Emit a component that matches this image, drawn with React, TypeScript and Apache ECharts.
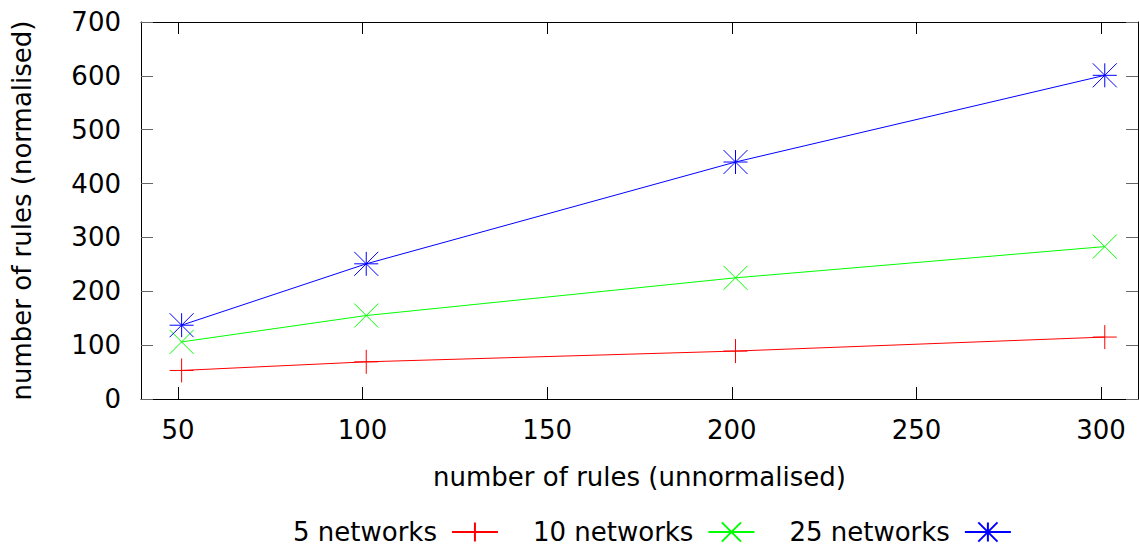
import React, { useEffect, useRef } from "react";
import * as echarts from "echarts";

const xValues = [51, 101, 201, 301];
const xTicks = [50, 100, 150, 200, 250, 300];
const net5 = [53, 69, 89, 115];
const net10 = [106, 155, 225, 283];
const net25 = [137, 251, 440, 601];
const seriesNames = ["5 networks", "10 networks", "25 networks"];

const PLUS = "path://M0,-1L0,1M-1,0L1,0";
const CROSS = "path://M-1,-1L1,1M-1,1L1,-1";
const STAR = "path://M0,-1L0,1M-1,0L1,0M-1,-1L1,1M-1,1L1,-1";

const FONT = "DejaVu Sans";
const FS = 26;

function pairs(ys: number[]) {
  return xValues.map((x, i) => [x, ys[i]]);
}

export default function App() {
  const ref = useRef<HTMLDivElement>(null);
  useEffect(() => {
    if (!ref.current) return;
    const chart = echarts.init(ref.current, undefined, { renderer: "svg" });
    const mk = (name: string, data: number[], color: string, symbol: string) => ({
      name,
      type: "line",
      data: pairs(data),
      symbol,
      symbolSize: 24,
      showAllSymbol: true,
      lineStyle: { color, width: 1 },
      itemStyle: { color, borderColor: color, borderWidth: 1 },
      emphasis: { disabled: true },
    });
    const tickStyleX = { show: true, inside: true, length: 12, lineStyle: { color: "#000", width: 1 } };
    const tickStyleY = { show: true, inside: true, length: 12, lineStyle: { color: "#666", width: 1 } };
    chart.setOption({
      animation: false,
      backgroundColor: "#fff",
      textStyle: { fontFamily: FONT },
      grid: { left: 141, right: 1, top: 22, bottom: 152, containLabel: false },
      legend: {
        left: 288,
        top: 514,
        align: "right",
        itemWidth: 46,
        itemHeight: 24,
        itemGap: 34,
        textStyle: { fontFamily: FONT, fontSize: FS, color: "#000", padding: [0, 10, 0, 0] },
        data: seriesNames,
      },
      xAxis: [
        {
          type: "value",
          min: 40,
          max: 310,
          name: "number of rules (unnormalised)",
          nameLocation: "middle",
          nameGap: 65,
          nameTextStyle: { fontFamily: FONT, fontSize: FS, color: "#000" },
          axisLine: { show: true, onZero: false, lineStyle: { color: "#000", width: 1 } },
          axisTick: { ...tickStyleX, customValues: xTicks },
          axisLabel: { customValues: xTicks, fontFamily: FONT, fontSize: FS, color: "#000", margin: 18 },
          splitLine: { show: false },
        },
        {
          type: "value",
          position: "top",
          min: 40,
          max: 310,
          axisLine: { show: true, onZero: false, lineStyle: { color: "#000", width: 1 } },
          axisTick: { ...tickStyleX, customValues: xTicks },
          axisLabel: { show: false },
          splitLine: { show: false },
        },
      ],
      yAxis: [
        {
          type: "value",
          min: 0,
          max: 700,
          interval: 100,
          name: "number of rules (normalised)",
          nameLocation: "middle",
          nameGap: 106,
          nameTextStyle: { fontFamily: FONT, fontSize: FS, color: "#000" },
          axisLine: { show: true, onZero: false, lineStyle: { color: "#000", width: 1 } },
          axisTick: tickStyleY,
          axisLabel: { fontFamily: FONT, fontSize: FS, color: "#000", margin: 20 },
          splitLine: { show: false },
        },
        {
          type: "value",
          position: "right",
          min: 0,
          max: 700,
          interval: 100,
          axisLine: { show: true, onZero: false, lineStyle: { color: "#000", width: 1 } },
          axisTick: tickStyleY,
          axisLabel: { show: false },
          splitLine: { show: false },
        },
      ],
      series: [
        mk(seriesNames[0], net5, "#ff0000", PLUS),
        mk(seriesNames[1], net10, "#00ff00", CROSS),
        mk(seriesNames[2], net25, "#0000ff", STAR),
      ],
    });
    return () => chart.dispose();
  }, []);
  return <div ref={ref} style={{ width: 1139, height: 551, position: "absolute", left: 0, top: 0 }} />;
}
